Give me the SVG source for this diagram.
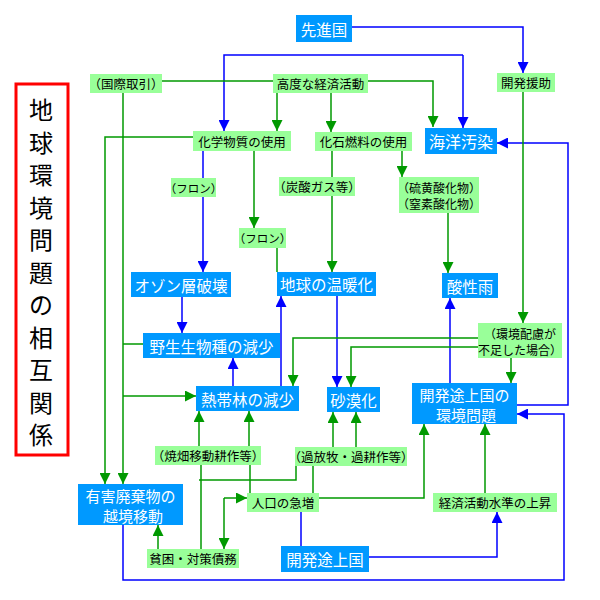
<svg xmlns="http://www.w3.org/2000/svg" width="600" height="600" viewBox="0 0 600 600">
<style>
text{font-family:"Noto Sans CJK JP","Noto Sans CJK SC",sans-serif;text-anchor:middle;dominant-baseline:central}
.g rect{fill:#99FF99}
.g text{font-size:12.5px;fill:#000}
.b rect{fill:#0099FF}
.b text{font-size:15.5px;fill:#fff}
.b text.two{font-size:15px}
.lg{fill:none;stroke:#009900;stroke-width:1.5}
.lb{fill:none;stroke:#0000FF;stroke-width:1.5}
.lg.a{marker-end:url(#ag)}
.lb.a{marker-end:url(#ab)}
.title{font-size:24px;fill:#000}
</style>
<defs>
<marker id="ag" viewBox="0 0 12 12" refX="12" refY="6" markerWidth="11" markerHeight="11" markerUnits="userSpaceOnUse" orient="auto"><path d="M0,0 L12,6 L0,12 z" fill="#009900"/></marker>
<marker id="ab" viewBox="0 0 12 12" refX="12" refY="6" markerWidth="11" markerHeight="11" markerUnits="userSpaceOnUse" orient="auto"><path d="M0,0 L12,6 L0,12 z" fill="#0000FF"/></marker>
</defs>
<rect width="600" height="600" fill="#fff"/>

<g id="title">
<rect x="16" y="84" width="52" height="371" fill="none" stroke="#FF0000" stroke-width="3"/>
<text class="title" x="41"><tspan x="41" y="108">地</tspan><tspan x="41" y="140.5">球</tspan><tspan x="41" y="173">環</tspan><tspan x="41" y="205.5">境</tspan><tspan x="41" y="238">問</tspan><tspan x="41" y="270.5">題</tspan><tspan x="41" y="303">の</tspan><tspan x="41" y="335.5">相</tspan><tspan x="41" y="368">互</tspan><tspan x="41" y="400.5">関</tspan><tspan x="41" y="433">係</tspan></text>
</g>

<g id="connectors">
<!-- blue -->
<path class="lb a" d="M352,27 H523 V73"/>
<path class="lb a" d="M463,55 H224 V131"/>
<path class="lb a" d="M463,55 V128"/>
<path class="lb" d="M203,151 V178"/>
<path class="lb a" d="M203,197 V272"/>
<path class="lb a" d="M182,297 V333"/>
<path class="lb a" d="M233,386 V358"/>
<path class="lb a" d="M281,386 V296"/>
<path class="lb a" d="M337,296 V387"/>
<path class="lb a" d="M450,383 V298"/>
<path class="lb a" d="M517,405 H568 V143 H497"/>
<path class="lb a" d="M123,525 V580 H564 V414 H517"/>
<path class="lb" d="M301,546 V512"/>
<path class="lb a" d="M369,557 H497 V512"/>
<!-- green -->
<path class="lg" d="M162,81 H273"/>
<path class="lg a" d="M368,81 H433 V127"/>
<path class="lg a" d="M277,93 V131"/>
<path class="lg a" d="M331,93 V132"/>
<path class="lg a" d="M193,137 H105 V484"/>
<path class="lg a" d="M123,93 V484"/>
<path class="lg" d="M123,344 H143"/>
<path class="lg a" d="M123,396 H196"/>
<path class="lg a" d="M254,151 V228"/>
<path class="lg" d="M277,248 V272"/>
<path class="lg" d="M332,151 V177"/>
<path class="lg a" d="M332,196 V272"/>
<path class="lg a" d="M402,151 V177"/>
<path class="lg a" d="M448,213 V273"/>
<path class="lg a" d="M523,92 V323"/>
<path class="lg a" d="M478,338 H293 V386"/>
<path class="lg a" d="M478,347 H351 V387"/>
<path class="lg a" d="M511,358 V383"/>
<path class="lg a" d="M199,446 V411"/>
<path class="lg a" d="M249,446 V411"/>
<path class="lg a" d="M333,447 V412"/>
<path class="lg a" d="M356,447 V412"/>
<path class="lg a" d="M319,498 H424 V424"/>
<path class="lg a" d="M485,493 V424"/>
<path class="lg" d="M296,466 V480 H199"/>
<path class="lg" d="M313,466 V493"/>
<path class="lg" d="M201,465 V549"/>
<path class="lg" d="M250,465 V493"/>
<path class="lg a" d="M224,498 H247"/>
<path class="lg a" d="M224,498 V549"/>
<path class="lg a" d="M158,549 V525"/>
</g>

<g id="senshinkoku" class="b"><rect x="296" y="15" width="56" height="27"/><text x="324" y="28.5">先進国</text></g>
<g id="kokusai" class="g"><rect x="90" y="74" width="72" height="19"/><text x="126" y="83.5">（国際取引）</text></g>
<g id="koudo" class="g"><rect x="273" y="74" width="95" height="19"/><text x="320.5" y="83.5">高度な経済活動</text></g>
<g id="enjo" class="g"><rect x="497" y="73" width="58" height="19"/><text x="526" y="82.5">開発援助</text></g>
<g id="kagaku" class="g"><rect x="193" y="131" width="98" height="20"/><text x="242" y="141">化学物質の使用</text></g>
<g id="kaseki" class="g"><rect x="315" y="132" width="97" height="19"/><text x="363.5" y="141.5">化石燃料の使用</text></g>
<g id="kaiyou" class="b"><rect x="425" y="128" width="72" height="26"/><text x="461" y="141" style="font-size:16px">海洋汚染</text></g>
<g id="furon1" class="g"><rect x="171" y="178" width="45" height="19"/><text x="193.5" y="187.5" style="font-size:11.5px">（フロン）</text></g>
<g id="tansan" class="g"><rect x="279" y="177" width="76" height="19"/><text x="317" y="186.5">（炭酸ガス等）</text></g>
<g id="iou" class="g"><rect x="399" y="177" width="80" height="36"/><text style="font-size:12px"><tspan x="439" y="187">（硫黄酸化物）</tspan><tspan x="439" y="203">（窒素酸化物）</tspan></text></g>
<g id="furon2" class="g"><rect x="239" y="228" width="47" height="20"/><text x="262.5" y="238" style="font-size:11.5px">（フロン）</text></g>
<g id="ozon" class="b"><rect x="131" y="272" width="100" height="25"/><text x="181" y="284.5">オゾン層破壊</text></g>
<g id="ondanka" class="b"><rect x="277" y="272" width="99" height="24"/><text x="326.5" y="284">地球の温暖化</text></g>
<g id="sanseiu" class="b"><rect x="442" y="273" width="56" height="25"/><text x="470" y="285.5">酸性雨</text></g>
<g id="hairyo" class="g"><rect x="478" y="323" width="84" height="35"/><text style="font-size:12px"><tspan x="520" y="332.5">（環境配慮が</tspan><tspan x="520" y="348.5">不足した場合）</tspan></text></g>
<g id="yasei" class="b"><rect x="143" y="333" width="137" height="25"/><text x="211.5" y="345.5">野生生物種の減少</text></g>
<g id="nettai" class="b"><rect x="196" y="386" width="103" height="25"/><text x="247.5" y="398.5">熱帯林の減少</text></g>
<g id="sabaku" class="b"><rect x="327" y="387" width="53" height="25"/><text x="353.5" y="399.5">砂漠化</text></g>
<g id="mondai" class="b"><rect x="412" y="383" width="105" height="41"/><text class="two"><tspan x="464.5" y="393.5">開発途上国の</tspan><tspan x="466" y="413.5">環境問題</tspan></text></g>
<g id="yakihata" class="g"><rect x="155" y="446" width="106" height="19"/><text x="208" y="455.5">（焼畑移動耕作等）</text></g>
<g id="kahouboku" class="g"><rect x="295" y="447" width="112" height="19"/><text x="351" y="456.5">（過放牧・過耕作等）</text></g>
<g id="yugai" class="b"><rect x="78" y="484" width="105" height="41"/><text class="two"><tspan x="130.5" y="494.5">有害廃棄物の</tspan><tspan x="133" y="514.5">越境移動</tspan></text></g>
<g id="jinkou" class="g"><rect x="247" y="493" width="72" height="19"/><text x="283" y="502.5">人口の急増</text></g>
<g id="keizai" class="g"><rect x="433" y="493" width="124" height="19"/><text x="495" y="502.5">経済活動水準の上昇</text></g>
<g id="hinkon" class="g"><rect x="147" y="549" width="92" height="19"/><text x="193" y="558.5">貧困・対策債務</text></g>
<g id="tojoukoku" class="b"><rect x="281" y="546" width="88" height="26"/><text x="325" y="559">開発途上国</text></g>
</svg>
